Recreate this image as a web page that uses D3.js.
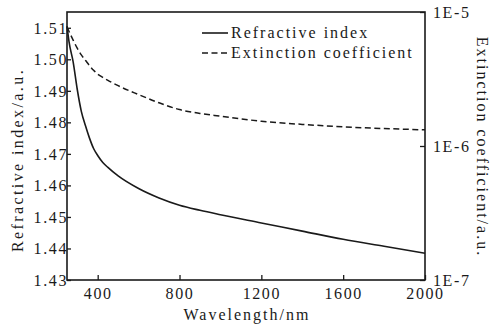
<!DOCTYPE html>
<html>
<head>
<meta charset="utf-8">
<script src="https://cdn.jsdelivr.net/npm/d3@7"></script>
<style>
  body { margin: 0; background: #fff; }
</style>
</head>
<body>
<svg id="chart" width="491" height="325"></svg>
<script>
// Data
const wavelengths = [250, 260, 280, 300, 320, 340, 360, 380, 400, 425, 450, 500, 600, 700, 800, 900, 1000, 1200, 1400, 1600, 1800, 2000];
const refractiveIndex = [1.5105, 1.5055, 1.4992, 1.4905, 1.4835, 1.4790, 1.4750, 1.4717, 1.4695, 1.4673, 1.4657, 1.4630, 1.4590, 1.4560, 1.4537, 1.4521, 1.4507, 1.4481, 1.4455, 1.4429, 1.4407, 1.4385];
const extinction = [7.73e-6, 7.16e-6, 6.17e-6, 5.37e-6, 4.79e-6, 4.37e-6, 3.98e-6, 3.67e-6, 3.44e-6, 3.25e-6, 3.09e-6, 2.82e-6, 2.42e-6, 2.10e-6, 1.87e-6, 1.75e-6, 1.67e-6, 1.53e-6, 1.45e-6, 1.39e-6, 1.35e-6, 1.32e-6];

const xTicks = [400, 800, 1200, 1600, 2000];
const nTicks = [1.43, 1.44, 1.45, 1.46, 1.47, 1.48, 1.49, 1.50, 1.51];
const kTicks = [1e-7, 1e-6, 1e-5];
const kTickLabels = ["1E-7", "1E-6", "1E-5"];
const legendLabels = ["Refractive index", "Extinction coefficient"];

const FONT = "Liberation Serif";
const INK = "#1a1a1a";

const svg = d3.select("#chart");
const margin = { top: 12, right: 66, bottom: 45, left: 67 };
const width = 491 - margin.left - margin.right;
const height = 325 - margin.top - margin.bottom;

const g = svg.append("g").attr("transform", `translate(${margin.left},${margin.top})`);

const x = d3.scaleLinear().domain([250, 2000]).range([0, width]);
const yN = d3.scaleLinear().domain([1.43, 1.515]).range([height, 0]);
const yK = d3.scaleLog().domain([1e-7, 1e-5]).range([height, 0]);

// helper for serif text styling
function styleText(sel, spacing = 2) {
  return sel
    .attr("font-family", FONT)
    .attr("font-size", 16)
    .attr("fill", INK)
    .attr("letter-spacing", spacing);
}

// Bottom axis (ticks pointing inward)
const xAxis = g.append("g")
  .attr("transform", `translate(0,${height})`)
  .call(d3.axisBottom(x).tickValues(xTicks).tickSizeInner(-5).tickSizeOuter(0).tickPadding(13).tickFormat(d3.format("d")));

// Left axis
const nAxis = g.append("g")
  .call(d3.axisLeft(yN).tickValues(nTicks).tickSizeInner(-4).tickSizeOuter(0).tickPadding(-1).tickFormat(d3.format(".2f")));

// Right axis (log)
const kAxis = g.append("g")
  .attr("transform", `translate(${width},0)`)
  .call(d3.axisRight(yK).tickValues(kTicks).tickSizeInner(-5).tickSizeOuter(0).tickPadding(13).tickFormat((d, i) => kTickLabels[i]));

[xAxis, nAxis, kAxis].forEach((a) => {
  a.attr("font-family", FONT).attr("font-size", 16);
  a.select(".domain").remove();
  a.selectAll(".tick line").attr("stroke", INK).attr("stroke-width", 1.3);
  styleText(a.selectAll(".tick text"), 1.6);
});
xAxis.selectAll(".tick text").attr("dy", "0.35em");
nAxis.selectAll(".tick text").attr("dy", "0.33em");
kAxis.selectAll(".tick text").attr("dy", "0.33em").attr("x", 8);

// Frame
g.append("rect")
  .attr("width", width)
  .attr("height", height)
  .attr("fill", "none")
  .attr("stroke", INK)
  .attr("stroke-width", 1.6);

// Lines
const nLine = d3.line()
  .x((d, i) => x(wavelengths[i]))
  .y((d) => yN(d))
  .curve(d3.curveMonotoneX);

const kLine = d3.line()
  .x((d, i) => x(wavelengths[i]))
  .y((d) => yK(d))
  .curve(d3.curveMonotoneX);

g.append("path")
  .datum(refractiveIndex)
  .attr("d", nLine)
  .attr("fill", "none")
  .attr("stroke", INK)
  .attr("stroke-width", 1.6);

g.append("path")
  .datum(extinction)
  .attr("d", kLine)
  .attr("fill", "none")
  .attr("stroke", INK)
  .attr("stroke-width", 1.5)
  .attr("stroke-dasharray", "6,3.5");

// Legend
const legend = svg.append("g").attr("transform", "translate(202,33)");
legendLabels.forEach((label, i) => {
  const row = legend.append("g").attr("transform", `translate(0,${i * 20})`);
  row.append("line")
    .attr("x1", 0).attr("x2", 26)
    .attr("stroke", INK)
    .attr("stroke-width", 1.6)
    .attr("stroke-dasharray", i === 1 ? "6,3.5" : null);
  styleText(row.append("text"))
    .attr("x", 29)
    .attr("y", 5)
    .text(label);
});

// Axis titles
styleText(svg.append("text"), 2.4)
  .attr("transform", `translate(17,160) rotate(-90)`)
  .attr("text-anchor", "middle")
  .attr("dominant-baseline", "central")
  .text("Refractive index/a.u.");

styleText(svg.append("text"), 2)
  .attr("transform", `translate(482,147) rotate(90)`)
  .attr("text-anchor", "middle")
  .attr("dominant-baseline", "central")
  .text("Extinction coefficient/a.u.");

styleText(svg.append("text"), 2)
  .attr("x", 247)
  .attr("y", 320)
  .attr("text-anchor", "middle")
  .text("Wavelength/nm");
</script>
</body>
</html>
